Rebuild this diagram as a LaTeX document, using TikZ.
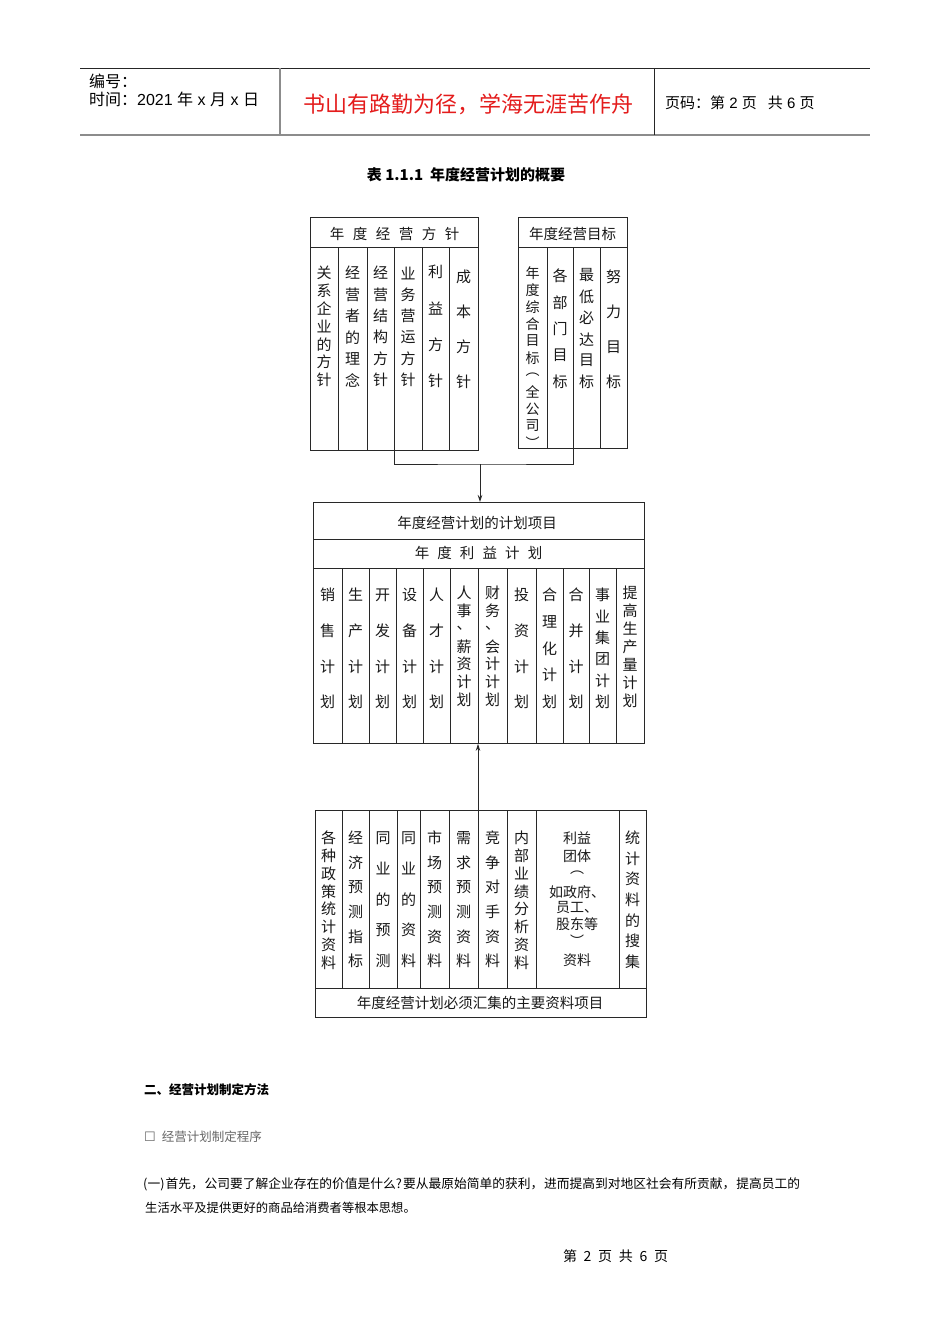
\documentclass[tikz,border=0pt]{standalone}
\usepackage{fontspec}
\setmainfont{Noto Sans CJK SC}
\newfontfamily\dejavu{DejaVu Sans}
\newfontfamily\lib{Liberation Sans}
\usetikzlibrary{arrows.meta}
\definecolor{motto}{RGB}{228,28,28}
\definecolor{ln}{RGB}{40,40,40}
\tikzset{
  box/.style={draw=ln, line width=0.9pt, minimum width=#1, inner sep=0pt, anchor=north west},
  ch/.style={font=\fontsize{15}{15}\selectfont, inner sep=0pt, text=black!90},
  chs/.style={font=\fontsize{14}{14}\selectfont, inner sep=0pt, text=black!90},
  hd/.style={font=\fontsize{14.5}{14.5}\selectfont, inner sep=0pt, text=black!90},
  cl/.style={draw=ln, line width=0.8pt},
  arr/.style={cl, -{Stealth[length=7pt,width=4.5pt]}},
  txt/.style={anchor=west, inner sep=0pt, font=\fontsize{12.3}{12.3}\selectfont}
}
\newcommand\vstack[5]{\foreach \vv [count=\i from 0] in {#4} {\node[ch] (#5\i) at ({#1},{#2+\i*#3}) {\vv};}}
\newcommand\vstacks[5]{\foreach \vv [count=\i from 0] in {#4} {\node[chs] (#5\i) at ({#1},{#2+\i*#3}) {\vv};}}
\newcommand\hstack[5]{\foreach \vv [count=\i from 0] in {#4} {\node[hd] (#5\i) at ({#1+\i*#3},{#2}) {\vv};}}
\begin{document}
\begin{tikzpicture}[x=1pt,y=-1pt]
\useasboundingbox[fill=white] (0,0) rectangle (950,1344);
% page header
\draw[line width=0.8pt, black!85] (80,68) -- (870,68);
\draw[line width=1.6pt, black!45] (80,135) -- (870,135);
\draw[line width=1.2pt, black!45] (280,68) -- (280,135);
\draw[line width=0.8pt, black!85] (654,68) -- (654,135);
\node[anchor=west, inner sep=0pt, font=\fontsize{16}{16}\selectfont] (bh) at (89,81) {编号：};
\node[anchor=west, inner sep=0pt, font=\fontsize{16}{16}\selectfont] (sj) at (89,99) {时间：{\lib 2021 }年{\lib\ x }月{\lib\ x }日};
\node[inner sep=0pt, text=motto, font=\fontsize{22}{22}\selectfont] (mt) at (468,104) {书山有路勤为径，学海无涯苦作舟};
\node[anchor=west, inner sep=0pt, font=\fontsize{15}{15}\selectfont] (ym) at (665,103) {页码：第{\lib\ 2\ }页\hspace{11pt}共{\lib\ 6\ }页};
% title
\node[inner sep=0pt, font=\bfseries\fontsize{15}{15}\selectfont] (title) at (466,175) {表 1.1.1\ \ 年度经营计划的概要};

% top-left box
\node[box=168pt, minimum height=233pt] (tl) at (310,217) {};
\draw[cl] (310,247) -- (478,247);
\foreach \x in {338,367,394,422,449} \draw[cl] (\x,247) -- (\x,450);
\hstack{337}{234}{23}{年,度,经,营,方,针}{tlh}
\vstack{324}{273}{17.8}{关,系,企,业,的,方,针}{a}
\vstack{352.5}{273}{21.4}{经,营,者,的,理,念}{b}
\vstack{380.5}{273}{21.4}{经,营,结,构,方,针}{c}
\vstack{408}{273}{21.4}{业,务,营,运,方,针}{d}
\vstack{435.5}{272}{36.3}{利,益,方,针}{e}
\vstack{463.5}{277}{35}{成,本,方,针}{f}

% top-right box
\node[box=109pt, minimum height=231pt] (tr) at (518,217) {};
\draw[cl] (518,247) -- (627,247);
\foreach \x in {547,573,600} \draw[cl] (\x,247) -- (\x,448);
\node[hd] (trh) at (572.5,234) {年度经营目标};
\vstacks{532.5}{273}{17}{年,度,综,合,目,标,︵,全,公,司,︶}{g}
\vstack{560}{276}{26.5}{各,部,门,目,标}{h}
\vstack{586.5}{275}{21.4}{最,低,必,达,目,标}{k}
\vstack{613.5}{277}{35}{努,力,目,标}{m}

% connector to middle box
\coordinate (j) at (480,464);
\draw[cl] (tl.south) |- (j) -| (tr.south);

% middle box
\node[box=331pt, minimum height=241pt] (mid) at (313,502) {};
\draw[arr] (j) -- (j |- mid.north);
\draw[cl] (313,539) -- (644,539);
\draw[cl] (313,568) -- (644,568);
\foreach \x in {342,369,396,423,450,478,507,536,563,589,616} \draw[cl] (\x,568) -- (\x,743);
\node[hd] (mh1) at (477,523) {年度经营计划的计划项目};
\hstack{422}{553}{22.6}{年,度,利,益,计,划}{mh}
\vstack{327.5}{595}{35.7}{销,售,计,划}{n1}
\vstack{355.5}{595}{35.7}{生,产,计,划}{n2}
\vstack{382.5}{595}{35.7}{开,发,计,划}{n3}
\vstack{409.5}{595}{35.7}{设,备,计,划}{n4}
\vstack{436.5}{595}{35.7}{人,才,计,划}{n5}
\vstack{464}{593}{17.8}{人,事,、,薪,资,计,划}{n6}
\vstack{492.5}{593}{17.8}{财,务,、,会,计,计,划}{n7}
\vstack{521.5}{595}{35.7}{投,资,计,划}{n8}
\vstack{549.5}{595}{26.7}{合,理,化,计,划}{n9}
\vstack{576}{595}{35.7}{合,并,计,划}{n10}
\vstack{602.5}{595}{21.4}{事,业,集,团,计,划}{n11}
\vstack{630}{593}{18}{提,高,生,产,量,计,划}{n12}

% bottom box
\node[box=331pt, minimum height=207pt] (bot) at (315,810) {};
\coordinate (foot) at (478,810);
\draw[arr] (foot) -- (foot |- mid.south);
\draw[cl] (315,988) -- (646,988);
\foreach \x in {342,369,397,420,449,478,507,536,619} \draw[cl] (\x,810) -- (\x,988);
\node[hd] (bf) at (480,1003) {年度经营计划必须汇集的主要资料项目};
\vstack{328.5}{838}{17.8}{各,种,政,策,统,计,资,料}{p1}
\vstack{355.5}{838}{24.6}{经,济,预,测,指,标}{p2}
\vstack{383}{838}{30.6}{同,业,的,预,测}{p3}
\vstack{408.5}{838}{30.6}{同,业,的,资,料}{p4}
\vstack{434.5}{838}{24.6}{市,场,预,测,资,料}{p5}
\vstack{463.5}{838}{24.6}{需,求,预,测,资,料}{p6}
\vstack{492.5}{838}{24.6}{竞,争,对,手,资,料}{p7}
\vstack{521.5}{838}{17.8}{内,部,业,绩,分,析,资,料}{p8}
\vstack{632.5}{838}{20.6}{统,计,资,料,的,搜,集}{p10}
\begin{scope}[every node/.style={inner sep=0pt, font=\fontsize{14}{14}\selectfont, text=black!90}]
\node (q1) at (577,838) {利益};
\node (q2) at (577,856) {团体};
\node (q3) at (577,873) {︵};
\node (q4) at (577,892) {如政府、};
\node (q5) at (577,908) {员工、};
\node (q6) at (577,924) {股东等};
\node (q7) at (577,941) {︶};
\node (q8) at (577,960) {资料};
\end{scope}

% body text
\node[txt, font=\bfseries\fontsize{12.5}{12.5}\selectfont] (s2) at (144,1090) {二、经营计划制定方法};
\node[txt, text=black!60, font=\fontsize{12.5}{12.5}\selectfont] (s3) at (144,1137) {{\dejavu\fontsize{13}{13}\selectfont ☐}\hspace{6pt}经营计划制定程序};
\node[txt, font=\fontsize{12.75}{12.75}\selectfont] (p1l) at (143,1184) {\makebox[657pt][s]{(一)\hfil 首先，\hfil 公司要了解企业存在的价值是什么?\hfil 要从最原始简单的获利，\hfil 进而提高到对地区社会有所贡献，\hfil 提高员工的}};
\node[txt] (p2l) at (145,1208) {生活水平及提供更好的商品给消费者等根本思想。};
\node[inner sep=0pt, font=\fontsize{14}{14}\selectfont] (pg) at (615.5,1256) {\makebox[105pt][s]{第\hfil 2\hfil 页\hfil 共\hfil 6\hfil 页}};
\end{tikzpicture}
\end{document}
